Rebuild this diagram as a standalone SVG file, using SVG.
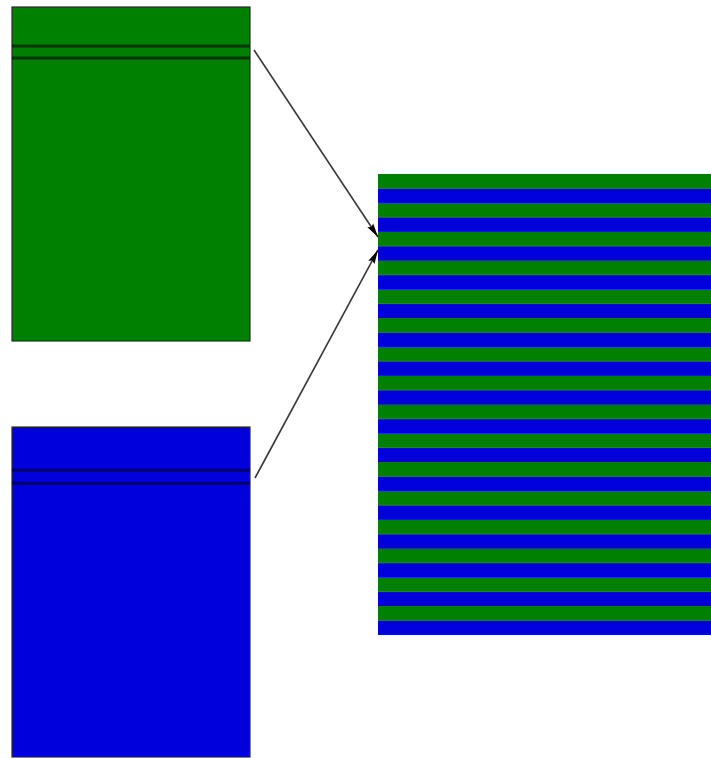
<svg xmlns="http://www.w3.org/2000/svg" width="711" height="758" viewBox="0 0 711 758">
<style>
.box{stroke:#2a2a2a;stroke-width:1.2}
.g{fill:#008000}
.b{fill:#0000dd}
.sep{stroke-width:3}
.sg{stroke:#003300}
.sb{stroke:#000066}
.conn{stroke:#3a3a3a;stroke-width:1.6;fill:none}
</style>
<defs>
<marker id="ah" viewBox="0 0 14 8" refX="14" refY="4" markerWidth="14" markerHeight="8" orient="auto" markerUnits="userSpaceOnUse">
<path d="M0,0.5 L14,4 L0,7.5 L2,4 Z" fill="#000"/>
</marker>
<pattern id="stripes" patternUnits="userSpaceOnUse" x="0" y="174" width="711" height="28.8">
<rect x="0" y="0" width="711" height="14.4" fill="#008000"/>
<rect x="0" y="14.4" width="711" height="14.4" fill="#0000dd"/>
</pattern>
</defs>
<rect width="711" height="758" fill="#fff"/>
<g id="green-node">
<rect class="box g" x="12" y="7" width="238" height="334"/>
<line class="sep sg" x1="12" y1="46" x2="250" y2="46"/>
<line class="sep sg" x1="12" y1="58" x2="250" y2="58"/>
</g>
<g id="blue-node">
<rect class="box b" x="12" y="427" width="238" height="330"/>
<line class="sep sb" x1="12" y1="470" x2="250" y2="470"/>
<line class="sep sb" x1="12" y1="483" x2="250" y2="483"/>
</g>
<g id="merged-node">
<rect x="378" y="174" width="333" height="461" fill="url(#stripes)"/>
</g>
<g id="connectors">
<line class="conn" x1="254" y1="50" x2="378" y2="237" marker-end="url(#ah)"/>
<line class="conn" x1="255" y1="478" x2="378" y2="250" marker-end="url(#ah)"/>
</g>
</svg>
